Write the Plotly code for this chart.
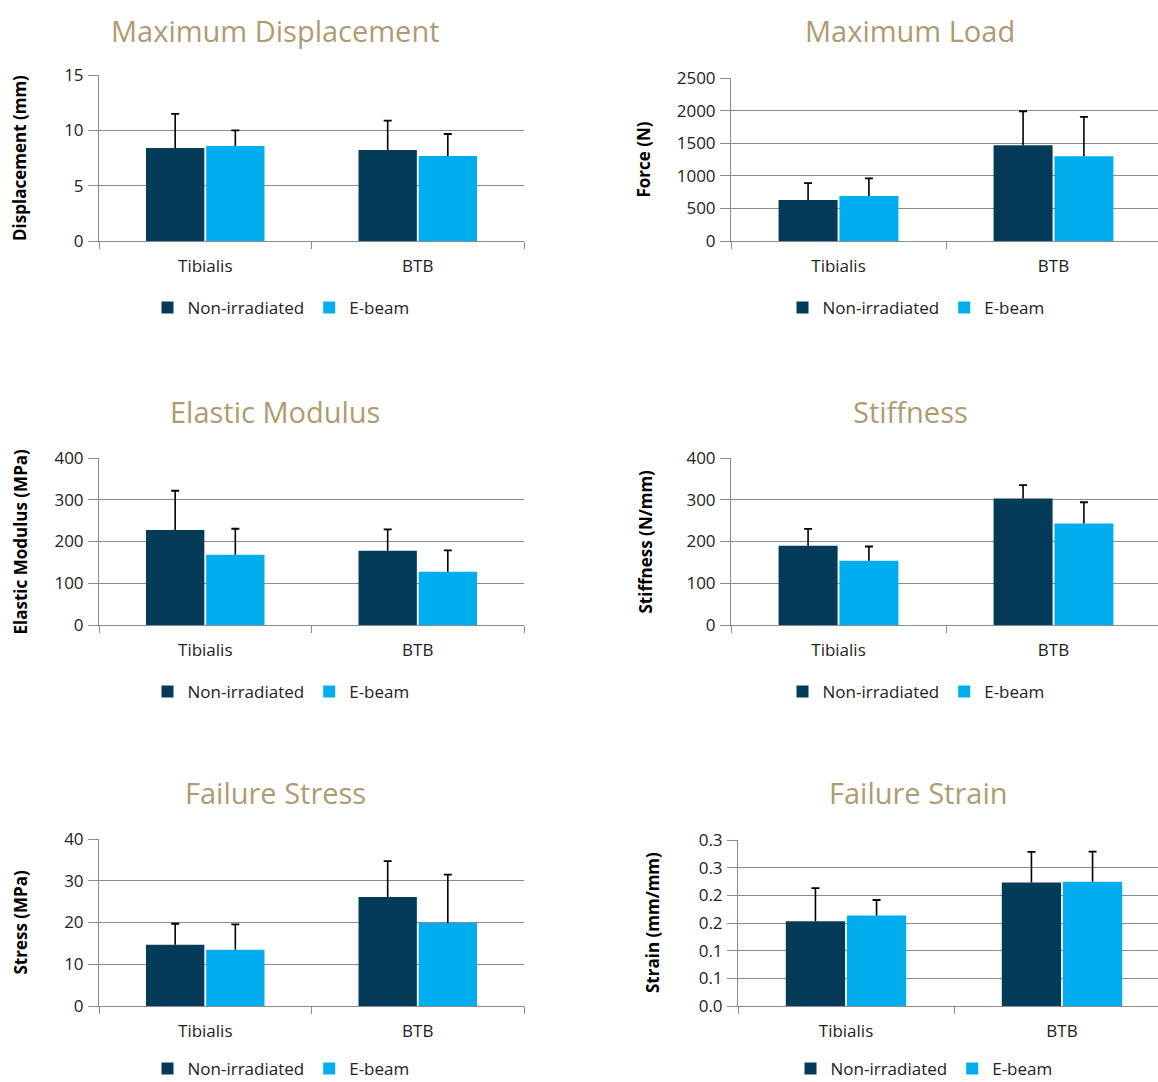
import plotly.graph_objects as go

# ---------------- data ----------------
categories = ["Tibialis", "BTB"]
series_names = ["Non-irradiated", "E-beam"]

titles = ["Maximum Displacement", "Maximum Load", "Elastic Modulus",
          "Stiffness", "Failure Stress", "Failure Strain"]
y_titles = ["Displacement (mm)", "Force (N)", "Elastic Modulus (MPa)",
            "Stiffness (N/mm)", "Stress (MPa)", "Strain (mm/mm)"]

disp_non = [8.40, 8.22]
disp_non_sd = [3.08, 2.65]
disp_eb = [8.58, 7.68]
disp_eb_sd = [1.42, 1.99]

load_non = [627, 1469]
load_non_sd = [261, 521]
load_eb = [689, 1301]
load_eb_sd = [270, 602]

mod_non = [227.5, 178]
mod_non_sd = [94, 51]
mod_eb = [168.5, 127.7]
mod_eb_sd = [62, 51]

stiff_non = [190, 303]
stiff_non_sd = [40, 32]
stiff_eb = [154, 243]
stiff_eb_sd = [34, 51]

stress_non = [14.7, 26.1]
stress_non_sd = [5.0, 8.6]
stress_eb = [13.5, 19.9]
stress_eb_sd = [6.05, 11.55]

strain_non = [0.153, 0.223]
strain_non_sd = [0.060, 0.0555]
strain_eb = [0.1635, 0.2246]
strain_eb_sd = [0.028, 0.0545]

disp_ticks = [0, 5, 10, 15]
load_ticks = [0, 500, 1000, 1500, 2000, 2500]
mod_ticks = [0, 100, 200, 300, 400]
stiff_ticks = [0, 100, 200, 300, 400]
stress_ticks = [0, 10, 20, 30, 40]
strain_ticks = [0, 0.05, 0.10, 0.15, 0.20, 0.25, 0.30]
strain_ticktext = ["0.0", "0.1", "0.1", "0.2", "0.2", "0.3", "0.3"]

panels = [
    (disp_non, disp_non_sd, disp_eb, disp_eb_sd, disp_ticks, [str(t) for t in disp_ticks]),
    (load_non, load_non_sd, load_eb, load_eb_sd, load_ticks, [str(t) for t in load_ticks]),
    (mod_non, mod_non_sd, mod_eb, mod_eb_sd, mod_ticks, [str(t) for t in mod_ticks]),
    (stiff_non, stiff_non_sd, stiff_eb, stiff_eb_sd, stiff_ticks, [str(t) for t in stiff_ticks]),
    (stress_non, stress_non_sd, stress_eb, stress_eb_sd, stress_ticks, [str(t) for t in stress_ticks]),
    (strain_non, strain_non_sd, strain_eb, strain_eb_sd, strain_ticks, strain_ticktext),
]

# ---------------- layout geometry (pixels) ----------------
W, H = 1158, 1082
DARK = "#043B59"
LIGHT = "#00AEEF"
GRID = "#8A8A8A"
TITLE_C = "#AE9C70"
FONT = "Open Sans"

# (left px, right px, category width px, top px, bottom px, title x, legend x, ytitle x)
geom = [
    (99, 524, 212.5, 75, 241, 275, 281, 20),
    (731, 1158, 215, 78, 241, 910, 916, 643),
    (99, 524, 212.5, 458, 625, 275, 281, 20),
    (731, 1158, 215, 458, 625, 910, 916, 645),
    (99, 524, 212.5, 839, 1006, 275, 281, 20),
    (738, 1158, 216, 840, 1006, 918, 924, 652),
]
title_y = [30, 30, 411, 411, 792, 792]
legend_y = [308, 308, 692, 692, 1069, 1069]

fig = go.Figure()
annotations = []
layout = dict(
    width=W, height=H,
    margin=dict(l=0, r=0, t=0, b=0, autoexpand=False),
    paper_bgcolor="white", plot_bgcolor="white",
    barmode="group", bargap=0.434, bargroupgap=0.03,
    font=dict(family=FONT, size=17, color="#222222"),
)


def cap_tops(vals, sds):
    return [v + s for v, s in zip(vals, sds)]


for i, (non, non_sd, eb, eb_sd, tvals, ttext) in enumerate(panels):
    n = i + 1
    xa = "x" if n == 1 else f"x{n}"
    ya = "y" if n == 1 else f"y{n}"
    lg = "legend" if n == 1 else f"legend{n}"
    left, right, cw, top, bot, tx, lx, ytx = geom[i]
    tiny = tvals[-1] * 1e-4

    for vals, sds, name, col, grp in ((non, non_sd, series_names[0], DARK, "a"),
                                      (eb, eb_sd, series_names[1], LIGHT, "b")):
        # the bar itself, with the vertical (upper) error line
        fig.add_trace(go.Bar(
            x=categories, y=vals, name=name, marker_color=col,
            marker_line_width=0, xaxis=xa, yaxis=ya, legend=lg,
            offsetgroup=grp,
            error_y=dict(type="data", array=sds, arrayminus=[0] * len(vals),
                         symmetric=False, color="black", thickness=1.6, width=0),
        ))
        # invisible bar carrying only the cap at the top of the error bar
        fig.add_trace(go.Bar(
            x=categories, y=cap_tops(vals, sds), name=name,
            marker_color="rgba(0,0,0,0)", marker_line_width=0,
            xaxis=xa, yaxis=ya, showlegend=False, hoverinfo="skip",
            offsetgroup=grp,
            error_y=dict(type="data", array=[tiny] * len(vals), arrayminus=[0] * len(vals),
                         symmetric=False, color="black", thickness=1.8, width=4),
        ))

    xname = "xaxis" if n == 1 else f"xaxis{n}"
    yname = "yaxis" if n == 1 else f"yaxis{n}"
    span = (right - left) / cw
    layout[xname] = dict(
        domain=[left / W, right / W], anchor=ya,
        type="category", range=[-0.5, -0.5 + span],
        showline=True, linecolor=GRID, linewidth=1,
        ticks="outside", tickson="boundaries", ticklen=7, tickcolor=GRID,
        showgrid=False, ticklabelstandoff=10,
        tickfont=dict(family=FONT, size=17, color="#222222"),
        fixedrange=True,
    )
    layout[yname] = dict(
        domain=[1 - bot / H, 1 - top / H], anchor=xa,
        range=[0, tvals[-1]], tickmode="array", tickvals=tvals, ticktext=ttext,
        showline=True, linecolor=GRID, linewidth=1,
        ticks="outside", ticklen=10, tickcolor=GRID,
        showgrid=True, gridcolor=GRID, gridwidth=1, zeroline=False,
        ticklabelstandoff=1,
        tickfont=dict(family=FONT, size=17, color="#222222"),
        fixedrange=True,
    )
    layout[lg] = dict(
        orientation="h", xref="container", yref="container",
        x=lx / W, y=1 - legend_y[i] / H,
        xanchor="center", yanchor="middle",
        font=dict(family=FONT, size=17, color="#222222"),
        itemwidth=30, bgcolor="rgba(0,0,0,0)",
        itemclick=False, itemdoubleclick=False,
    )
    annotations.append(dict(
        text=titles[i], x=tx / W, y=1 - title_y[i] / H, xref="paper", yref="paper",
        xanchor="center", yanchor="middle", showarrow=False,
        font=dict(family=FONT, size=29, color=TITLE_C),
    ))
    annotations.append(dict(
        text=f"<b>{y_titles[i]}</b>", x=ytx / W, y=1 - ((top + bot) / 2) / H,
        xref="paper", yref="paper", xanchor="center", yanchor="middle",
        textangle=-90, showarrow=False,
        font=dict(family=FONT, size=17, color="black"),
    ))

layout["annotations"] = annotations
fig.update_layout(**layout)
fig.write_html("out.html")
